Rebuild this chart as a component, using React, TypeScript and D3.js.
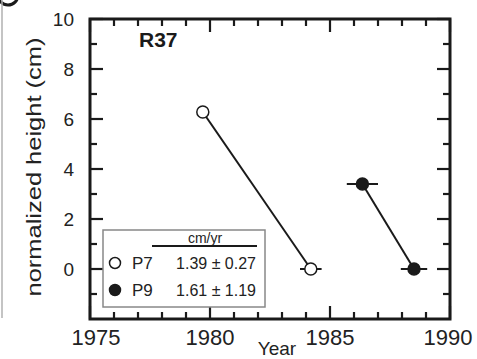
import React from "react";
import * as d3 from "d3";

const W = 477;
const H = 359;

const xTickLabels = [1975, 1980, 1985, 1990];
const xMinorTicks = [1976, 1977, 1978, 1979, 1981, 1982, 1983, 1984, 1986, 1987, 1988, 1989];
const yTickLabels = [0, 2, 4, 6, 8, 10];
const yMinorTicks = [-1, 1, 3, 5, 7, 9];

const p7Years = [1979.7, 1984.2];
const p7Heights = [6.28, 0];
const p7Err = [0, 0.45];

const p9Years = [1986.35, 1988.5];
const p9Heights = [3.4, 0];
const p9Err = [0.65, 0.55];

const legendRates = ["1.39 \u00B1 0.27", "1.61 \u00B1 1.19"];
const legendNames = ["P7", "P9"];

const panelLabel = "R37";

export default function App() {
  const left = 90, right = 450, top = 19, bottom = 319;
  const x = d3.scaleLinear().domain([1975, 1990]).range([left, right]);
  const y = d3.scaleLinear().domain([-2, 10]).range([bottom, top]);
  const line = d3.line<[number, number]>().x(d => x(d[0])).y(d => y(d[1]));
  const major = 13, minor = 7;
  const ink = "#1a1a1a";
  const font = "Arial, Liberation Sans, Helvetica, sans-serif";

  const series = [
    { years: p7Years, h: p7Heights, err: p7Err, fill: "#fff" },
    { years: p9Years, h: p9Heights, err: p9Err, fill: ink },
  ];

  return (
    <svg width={W} height={H} style={{ position: "absolute", left: 0, top: 0, background: "#fff", fontFamily: font }}>
      {/* clipped panel letter & border remnants */}
      <circle cx={8} cy={-5} r={10} fill="none" stroke={ink} strokeWidth={3} />
      <line x1={2} y1={0} x2={2} y2={318} stroke="#b0b0b0" strokeWidth={1.5} />

      {/* frame */}
      <rect x={left} y={top} width={right - left} height={bottom - top} fill="none" stroke={ink} strokeWidth={3} />

      {/* x ticks */}
      {xTickLabels.map(t => (
        <g key={"xm" + t}>
          <line x1={x(t)} x2={x(t)} y1={bottom} y2={bottom - major} stroke={ink} strokeWidth={2.2} />
          <line x1={x(t)} x2={x(t)} y1={top} y2={top + major} stroke={ink} strokeWidth={2.2} />
          <text x={x(t) + (t === 1975 ? 6 : t === 1990 ? -2 : 0)} y={345} textAnchor="middle" fontSize={22} fill="#222" fontFamily={font}>{t}</text>
        </g>
      ))}
      {xMinorTicks.map(t => (
        <g key={"xn" + t}>
          <line x1={x(t)} x2={x(t)} y1={bottom} y2={bottom - minor} stroke={ink} strokeWidth={2.2} />
          <line x1={x(t)} x2={x(t)} y1={top} y2={top + minor} stroke={ink} strokeWidth={2.2} />
        </g>
      ))}

      {/* y ticks */}
      {yTickLabels.map(t => (
        <g key={"ym" + t}>
          <line x1={left} x2={left + major} y1={y(t)} y2={y(t)} stroke={ink} strokeWidth={2.2} />
          <line x1={right} x2={right - major} y1={y(t)} y2={y(t)} stroke={ink} strokeWidth={2.2} />
          <text x={74} y={y(t)} dy="0.36em" textAnchor="end" fontSize={19} fill="#222" fontFamily={font}>{t}</text>
        </g>
      ))}
      {yMinorTicks.map(t => (
        <g key={"yn" + t}>
          <line x1={left} x2={left + minor} y1={y(t)} y2={y(t)} stroke={ink} strokeWidth={2.2} />
          <line x1={right} x2={right - minor} y1={y(t)} y2={y(t)} stroke={ink} strokeWidth={2.2} />
        </g>
      ))}

      {/* axis titles */}
      <text x={277} y={355} textAnchor="middle" fontSize={19} fill="#222" fontFamily={font}>Year</text>
      <text transform={`translate(41,167) rotate(-90)`} textAnchor="middle" fontSize={21} fill="#222" fontFamily={font}
        textLength={259} lengthAdjust="spacingAndGlyphs">normalized height (cm)</text>

      <text x={139} y={47} fontSize={21} fontWeight="bold" fill={ink} fontFamily={font}>{panelLabel}</text>

      {/* data */}
      {series.map((s, i) => {
        const pts: [number, number][] = s.years.map((yr, j) => [yr, s.h[j]]);
        return (
          <g key={"s" + i}>
            <path d={line(pts) || ""} fill="none" stroke={ink} strokeWidth={2} />
            {pts.map((p, j) => s.err[j] > 0 ? (
              <line key={"e" + j} x1={x(p[0] - s.err[j])} x2={x(p[0] + s.err[j])} y1={y(p[1])} y2={y(p[1])} stroke={ink} strokeWidth={2} />
            ) : null)}
            {pts.map((p, j) => (
              <circle key={"c" + j} cx={x(p[0])} cy={y(p[1])} r={6} fill={s.fill} stroke={ink} strokeWidth={1.5} />
            ))}
          </g>
        );
      })}

      {/* legend */}
      <rect x={103} y={230} width={162} height={77} fill="#fff" stroke="#888" strokeWidth={1.5} />
      <text x={205} y={243} textAnchor="middle" fontSize={14} fill="#222" fontFamily={font}>cm/yr</text>
      <line x1={152} x2={257} y1={246} y2={246} stroke={ink} strokeWidth={2} />
      {legendNames.map((n, i) => (
        <g key={"l" + i}>
          <circle cx={115} cy={263 + i * 27} r={5.5} fill={series[i].fill} stroke={ink} strokeWidth={1.5} />
          <text x={132} y={263 + i * 27} dy="0.36em" fontSize={17} fill="#222" fontFamily={font}>{n}</text>
          <text x={256} y={263 + i * 27} dy="0.36em" textAnchor="end" fontSize={16} fill="#222" fontFamily={font}>{legendRates[i]}</text>
        </g>
      ))}
    </svg>
  );
}
